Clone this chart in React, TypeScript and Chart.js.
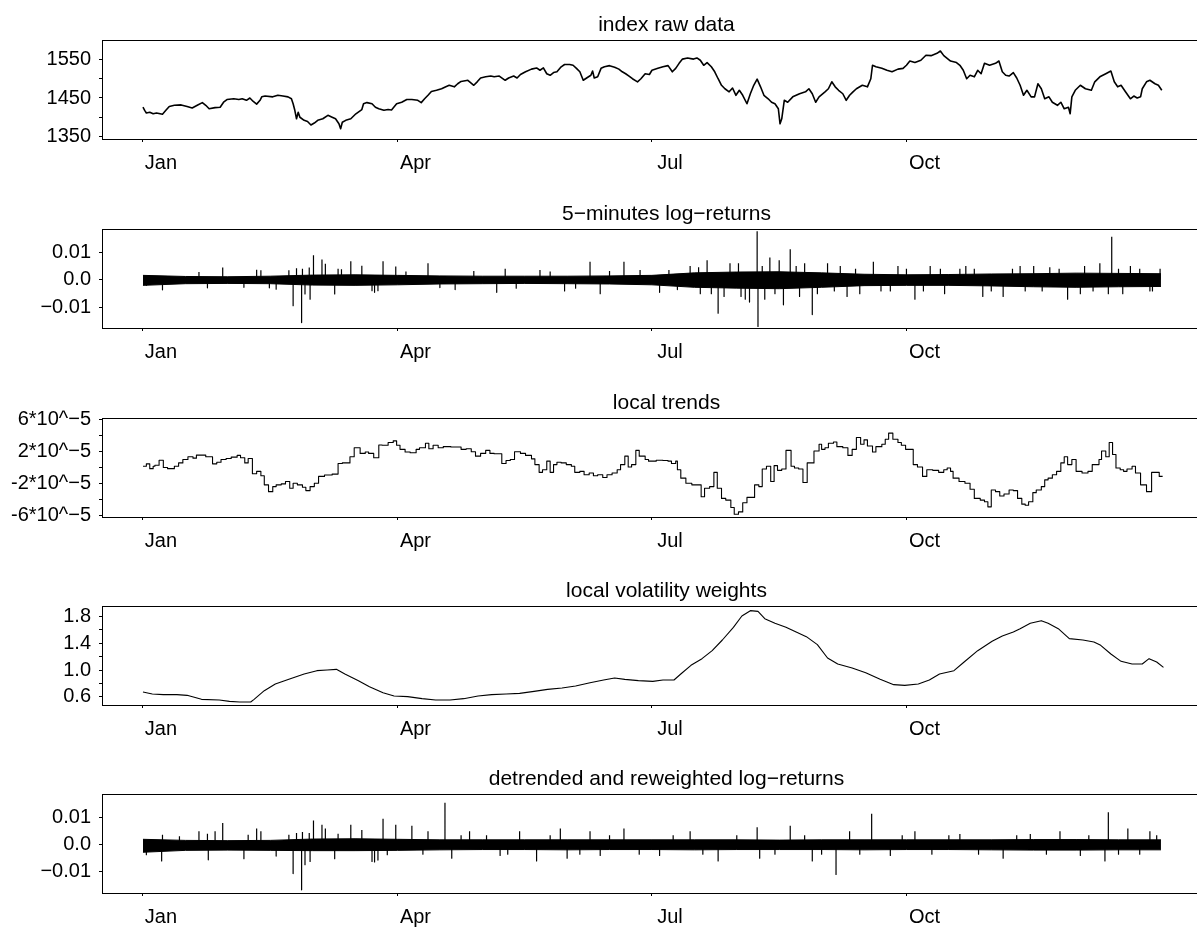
import React, { useEffect, useRef } from 'react';
import { Chart, registerables } from 'chart.js';

Chart.register(...registerables);

const FONT = "'Liberation Sans', Arial, Helvetica, sans-serif";

// ---------- x axis (months since first trading day of January) ----------
const monthTicks = [0, 3, 6, 9];
const monthLabels = ['Jan', 'Apr', 'Jul', 'Oct'];
const X_MIN = -0.483;
const X_MAX = 12.826;

// ---------- panel 1: index raw data [month, level] ----------
const indexSeries: [number, number][] = [
  [0, 1426], [0.02, 1418], [0.04, 1411], [0.08, 1413], [0.12, 1409], [0.16, 1411], [0.23, 1408], [0.27, 1418],
  [0.31, 1428], [0.37, 1431], [0.45, 1432], [0.52, 1428], [0.58, 1424], [0.64, 1431], [0.7, 1438], [0.74, 1431],
  [0.78, 1422], [0.85, 1425], [0.91, 1426], [0.95, 1439], [0.99, 1446], [1.07, 1448], [1.13, 1446], [1.17, 1448],
  [1.22, 1444], [1.26, 1450], [1.3, 1441], [1.34, 1434], [1.38, 1444], [1.4, 1453], [1.44, 1455], [1.53, 1453],
  [1.59, 1457], [1.65, 1455], [1.71, 1453], [1.75, 1448], [1.77, 1435], [1.79, 1418], [1.81, 1396], [1.83, 1413],
  [1.85, 1400], [1.9, 1392], [1.94, 1389], [1.98, 1380], [2.02, 1385], [2.06, 1392], [2.12, 1396], [2.18, 1405],
  [2.23, 1400], [2.27, 1396], [2.31, 1383], [2.33, 1370], [2.35, 1387], [2.39, 1392], [2.45, 1396], [2.51, 1409],
  [2.58, 1420], [2.6, 1435], [2.64, 1438], [2.7, 1435], [2.74, 1426], [2.78, 1422], [2.84, 1418], [2.89, 1420],
  [2.93, 1419], [2.99, 1435], [3.05, 1439], [3.11, 1446], [3.17, 1446], [3.24, 1444], [3.28, 1438], [3.32, 1448],
  [3.36, 1457], [3.4, 1467], [3.46, 1470], [3.52, 1474], [3.57, 1479], [3.61, 1483], [3.67, 1479], [3.71, 1487],
  [3.75, 1493], [3.83, 1496], [3.9, 1483], [3.94, 1492], [3.98, 1502], [4.04, 1505], [4.1, 1507], [4.14, 1505],
  [4.2, 1507], [4.27, 1496], [4.31, 1502], [4.37, 1507], [4.41, 1502], [4.45, 1511], [4.51, 1518], [4.58, 1525],
  [4.64, 1528], [4.68, 1522], [4.72, 1528], [4.76, 1513], [4.8, 1509], [4.84, 1516], [4.88, 1518], [4.93, 1531],
  [4.97, 1537], [5.03, 1537], [5.07, 1535], [5.11, 1527], [5.15, 1518], [5.19, 1496], [5.23, 1502], [5.28, 1509],
  [5.3, 1520], [5.32, 1502], [5.36, 1505], [5.4, 1527], [5.44, 1531], [5.5, 1534], [5.56, 1530], [5.61, 1525],
  [5.65, 1518], [5.69, 1513], [5.73, 1507], [5.77, 1500], [5.83, 1492], [5.87, 1500], [5.92, 1513], [5.97, 1511],
  [6.0, 1522], [6.07, 1527], [6.13, 1531], [6.19, 1534], [6.24, 1518], [6.28, 1527], [6.32, 1540], [6.36, 1551],
  [6.42, 1554], [6.49, 1551], [6.53, 1554], [6.57, 1548], [6.61, 1535], [6.65, 1542], [6.7, 1531], [6.74, 1518],
  [6.78, 1500], [6.82, 1483], [6.86, 1474], [6.91, 1466], [6.95, 1476], [6.99, 1457], [7.03, 1470], [7.07, 1457],
  [7.12, 1435], [7.16, 1461], [7.2, 1483], [7.24, 1499], [7.28, 1479], [7.32, 1457], [7.37, 1448], [7.41, 1439],
  [7.45, 1435], [7.49, 1422], [7.51, 1383], [7.53, 1396], [7.56, 1444], [7.6, 1439], [7.66, 1453], [7.74, 1461],
  [7.81, 1466], [7.85, 1474], [7.89, 1461], [7.93, 1439], [7.97, 1453], [8.04, 1466], [8.08, 1474], [8.12, 1492],
  [8.16, 1479], [8.2, 1470], [8.25, 1461], [8.29, 1444], [8.33, 1457], [8.37, 1466], [8.41, 1474], [8.48, 1483],
  [8.54, 1479], [8.58, 1500], [8.6, 1535], [8.64, 1531], [8.71, 1527], [8.77, 1522], [8.83, 1518], [8.9, 1525],
  [8.96, 1527], [9.0, 1535], [9.04, 1546], [9.1, 1542], [9.17, 1548], [9.23, 1561], [9.29, 1560], [9.36, 1566],
  [9.4, 1572], [9.44, 1560], [9.48, 1553], [9.52, 1546], [9.59, 1542], [9.63, 1535], [9.67, 1522], [9.71, 1500],
  [9.75, 1509], [9.8, 1505], [9.84, 1522], [9.88, 1513], [9.92, 1540], [9.98, 1535], [10.05, 1540], [10.09, 1546],
  [10.13, 1518], [10.17, 1509], [10.21, 1507], [10.26, 1516], [10.3, 1502], [10.34, 1483], [10.38, 1457], [10.42, 1470],
  [10.47, 1453], [10.51, 1453], [10.55, 1487], [10.59, 1474], [10.63, 1448], [10.68, 1453], [10.72, 1439], [10.78, 1431],
  [10.82, 1439], [10.86, 1422], [10.91, 1426], [10.93, 1409], [10.95, 1453], [10.99, 1470], [11.05, 1483], [11.11, 1474],
  [11.18, 1470], [11.22, 1492], [11.28, 1505], [11.35, 1513], [11.41, 1520], [11.45, 1492], [11.49, 1479], [11.53, 1483],
  [11.58, 1467], [11.64, 1448], [11.68, 1455], [11.72, 1450], [11.76, 1453], [11.78, 1474], [11.83, 1492], [11.87, 1496],
  [11.93, 1487], [11.97, 1483], [12.01, 1470],
];
const indexTicks = [1350, 1400, 1450, 1500, 1550];
const indexTickLabels = ['1350', '', '1450', '', '1550'];

// ---------- panel 2: 5-minute log-returns (values in 0.001) ----------
const bandMonths = [0, 0.5, 1, 1.5, 2, 2.5, 3, 3.5, 4, 4.5, 5, 5.5, 6, 6.5, 7, 7.5, 8, 8.5, 9, 9.5, 10, 10.5, 11, 11.5, 12];
const returnsUpper = [1.6, 1.2, 1.1, 1.3, 1.7, 1.8, 1.6, 1.4, 1.3, 1.3, 1.3, 1.4, 1.6, 2.5, 2.8, 2.9, 2.5, 2.0, 1.8, 1.9, 2.1, 2.2, 2.4, 2.3, 2.2];
const returnsLower = [-2.0, -1.4, -1.3, -1.4, -1.9, -2.0, -1.8, -1.5, -1.4, -1.3, -1.4, -1.5, -1.8, -2.7, -3.0, -3.2, -2.7, -2.1, -2.0, -2.0, -2.2, -2.5, -2.7, -2.5, -2.4];
const returnsSpikes: [number, number][] = [
  [0.04, -2.0], [0.23, -3.6], [0.66, 2.8], [0.76, -2.9], [0.94, 4.4], [1.19, -2.7], [1.34, 3.6], [1.39, 3.4],
  [1.49, -2.9], [1.57, -3.4], [1.72, 3.4], [1.77, -9.3], [1.81, 4.2], [1.87, -15.4], [1.88, 4.0], [1.91, -5.1],
  [1.96, 4.4], [1.97, -7.0], [2.01, 8.8], [2.11, 7.3], [2.15, 5.8], [2.26, -5.1], [2.3, 4.0], [2.34, 3.8],
  [2.45, 6.7], [2.58, 5.1], [2.7, -3.9], [2.73, -4.5], [2.77, -3.9], [2.83, 6.7], [2.98, 4.8], [3.1, 3.0],
  [3.36, 6.0], [3.5, -2.8], [3.68, -3.5], [3.9, 3.2], [4.17, -4.5], [4.27, 4.0], [4.4, -3.0], [4.68, 3.5],
  [4.8, 3.0], [4.97, -4.0], [5.1, -3.0], [5.27, 6.5], [5.39, -5.0], [5.5, 3.2], [5.67, 6.5], [5.86, 3.5],
  [6.09, -4.5], [6.2, 3.5], [6.3, -3.5], [6.45, 5.0], [6.55, 4.5], [6.57, -5.0], [6.65, 7.0], [6.7, -5.0],
  [6.78, -12.0], [6.85, -6.0], [6.92, 6.0], [7.02, 6.0], [7.05, -6.0], [7.1, -7.0], [7.15, -8.0], [7.24, 17.5],
  [7.25, -16.8], [7.3, 5.0], [7.33, -7.0], [7.39, 8.0], [7.45, -5.0], [7.5, 7.0], [7.55, -9.0], [7.63, 11.0],
  [7.7, 5.0], [7.74, -6.0], [7.8, 6.0], [7.89, -12.5], [7.95, -5.0], [8.07, 6.0], [8.15, -4.0], [8.22, 5.0],
  [8.3, -6.0], [8.4, 4.0], [8.45, -5.0], [8.61, 6.5], [8.7, -4.0], [8.81, -4.0], [8.9, 5.0], [9.0, 4.0],
  [9.1, -7.0], [9.2, -4.0], [9.28, 5.0], [9.4, 4.0], [9.45, -5.0], [9.63, 4.0], [9.7, 5.0], [9.8, 4.0],
  [9.9, -6.0], [10.0, -4.0], [10.14, -6.0], [10.25, 4.0], [10.34, 5.0], [10.4, -4.0], [10.5, 5.0], [10.6, -4.0],
  [10.69, 4.5], [10.8, 4.0], [10.9, -7.0], [11.05, -5.0], [11.1, 5.0], [11.2, -4.0], [11.28, 6.0], [11.38, -5.0],
  [11.42, 15.5], [11.5, 4.0], [11.55, -5.0], [11.64, 5.0], [11.75, 4.0], [11.87, -4.0], [11.9, -4.0], [11.99, 4.0],
];
const returnTicks = [-10, 0, 10];
const returnTickLabels = ['\u22120.01', '0.0', '0.01'];

// ---------- panel 3: local trends, step levels in 1e-5 [start month, level] ----------
const trendSteps: [number, number][] = [
  [0, 0.15], [0.04, 0.45], [0.08, -0.15], [0.12, 0.15], [0.14, 0.28], [0.19, 0.91], [0.24, 0.0], [0.29, -0.15],
  [0.37, 0.15], [0.42, 0.57], [0.47, 1.0], [0.53, 1.34], [0.59, 1.17], [0.63, 1.55], [0.74, 1.34], [0.82, 0.45],
  [0.87, 0.66], [0.92, 1.0], [0.98, 1.12], [1.04, 1.29], [1.11, 1.51], [1.15, 1.21], [1.2, 0.57], [1.24, 1.12],
  [1.29, -0.78], [1.34, -0.49], [1.39, -1.04], [1.43, -2.18], [1.48, -3.03], [1.53, -2.4], [1.57, -2.18], [1.63, -2.06],
  [1.68, -1.76], [1.73, -2.61], [1.77, -1.97], [1.82, -2.18], [1.88, -2.48], [1.92, -2.9], [1.97, -2.4], [2.02, -1.97],
  [2.07, -1.12], [2.14, -0.95], [2.23, -0.83], [2.3, 0.49], [2.35, 0.57], [2.44, 1.34], [2.49, 2.48], [2.56, 1.76],
  [2.62, 1.93], [2.66, 1.76], [2.72, 1.21], [2.78, 2.82], [2.82, 2.78], [2.89, 3.12], [2.95, 3.33], [2.99, 2.78],
  [3.03, 2.27], [3.09, 1.93], [3.15, 1.84], [3.22, 2.27], [3.26, 2.48], [3.33, 3.03], [3.37, 2.35], [3.42, 2.78],
  [3.48, 2.48], [3.54, 2.61], [3.63, 2.57], [3.75, 2.27], [3.81, 2.35], [3.87, 1.97], [3.92, 1.42], [3.98, 1.76],
  [4.04, 2.14], [4.09, 1.76], [4.14, 1.72], [4.23, 0.49], [4.28, 0.87], [4.33, 1.0], [4.38, 1.97], [4.45, 1.76],
  [4.51, 1.51], [4.58, 1.08], [4.62, 0.36], [4.67, -0.61], [4.71, -0.28], [4.76, 0.79], [4.8, -0.61], [4.84, 0.36],
  [4.88, 0.66], [4.93, 0.57], [4.99, 0.36], [5.05, 0.15], [5.09, -0.61], [5.15, -0.49], [5.2, -0.91], [5.26, -0.7],
  [5.31, -1.04], [5.36, -0.91], [5.42, -1.25], [5.47, -0.91], [5.53, -0.7], [5.59, -0.28], [5.63, 0.36], [5.68, 1.42],
  [5.72, 0.06], [5.76, 0.36], [5.81, 2.14], [5.85, 1.42], [5.92, 1.0], [5.96, 0.79], [6.05, 0.91], [6.13, 0.87],
  [6.19, 0.79], [6.23, 0.49], [6.28, 0.79], [6.3, -0.28], [6.34, -1.34], [6.4, -1.97], [6.47, -2.18], [6.58, -3.67],
  [6.62, -2.61], [6.68, -2.4], [6.73, -0.61], [6.77, -2.61], [6.82, -3.88], [6.87, -4.09], [6.93, -5.02], [6.97, -5.87],
  [7.02, -5.57], [7.07, -4.43], [7.12, -3.75], [7.21, -2.18], [7.26, -2.4], [7.3, -0.19], [7.35, 0.15], [7.4, -1.76],
  [7.44, 0.23], [7.48, -0.36], [7.53, -0.19], [7.58, 2.14], [7.64, 0.15], [7.68, -0.07], [7.73, -0.19], [7.78, -1.89],
  [7.83, 0.57], [7.91, 2.06], [7.97, 2.91], [8.0, 2.27], [8.04, 2.48], [8.08, 3.03], [8.14, 3.2], [8.18, 2.61],
  [8.25, 2.48], [8.31, 1.51], [8.36, 2.27], [8.41, 3.75], [8.46, 2.91], [8.5, 3.46], [8.54, 2.69], [8.6, 1.93],
  [8.64, 2.61], [8.71, 2.91], [8.75, 3.54], [8.79, 4.3], [8.84, 3.54], [8.9, 3.12], [8.94, 2.78], [8.99, 2.27],
  [9.08, 0.36], [9.13, 0.06], [9.19, -1.12], [9.24, -0.28], [9.31, -0.36], [9.38, -0.61], [9.44, -0.28], [9.48, -0.07],
  [9.52, -0.49], [9.55, -1.34], [9.62, -1.76], [9.69, -1.97], [9.75, -2.74], [9.8, -3.88], [9.87, -4.09], [9.92, -4.3],
  [9.96, -4.94], [10.0, -2.82], [10.05, -3.03], [10.1, -3.58], [10.15, -3.33], [10.21, -2.82], [10.26, -2.9], [10.31, -3.88],
  [10.36, -4.6], [10.4, -4.73], [10.44, -4.3], [10.49, -3.16], [10.53, -2.82], [10.59, -2.4], [10.63, -1.55], [10.67, -1.34],
  [10.72, -0.91], [10.77, -0.49], [10.82, 0.57], [10.86, 1.34], [10.9, 0.36], [10.95, 1.0], [11.0, -0.49], [11.07, -0.7],
  [11.14, -0.49], [11.19, 0.36], [11.27, 1.0], [11.3, 2.06], [11.35, 1.34], [11.39, 3.12], [11.43, 1.63], [11.47, -0.07],
  [11.52, -0.28], [11.56, -0.49], [11.6, -0.19], [11.66, 0.15], [11.7, -0.7], [11.76, -2.18], [11.83, -3.03], [11.89, -0.61],
  [11.98, -1.12], [12.02, -1.12],
];
const trendTicks = [-6, -4, -2, 0, 2, 4, 6];
const trendTickLabels = ['-6*10^\u22125', '', '-2*10^\u22125', '', '2*10^\u22125', '', '6*10^\u22125'];

// ---------- panel 4: local volatility weights [month, weight] ----------
const volSeries: [number, number][] = [
  [0, 0.67], [0.11, 0.64], [0.24, 0.63], [0.4, 0.63], [0.52, 0.62], [0.69, 0.56], [0.9, 0.55], [1.02, 0.53],
  [1.14, 0.52], [1.27, 0.52], [1.31, 0.56], [1.43, 0.69], [1.56, 0.79], [1.72, 0.86], [1.9, 0.94], [2.05, 0.99],
  [2.17, 1.0], [2.28, 1.01], [2.38, 0.94], [2.54, 0.84], [2.67, 0.75], [2.83, 0.66], [2.96, 0.61], [3.12, 0.6],
  [3.29, 0.57], [3.45, 0.55], [3.62, 0.55], [3.78, 0.57], [3.95, 0.61], [4.11, 0.63], [4.28, 0.64], [4.44, 0.65],
  [4.61, 0.68], [4.77, 0.71], [4.94, 0.73], [5.1, 0.76], [5.27, 0.81], [5.43, 0.85], [5.56, 0.88], [5.68, 0.86],
  [5.84, 0.84], [6.01, 0.83], [6.13, 0.85], [6.26, 0.85], [6.34, 0.94], [6.46, 1.07], [6.59, 1.17], [6.71, 1.29],
  [6.83, 1.45], [6.96, 1.64], [7.06, 1.81], [7.16, 1.89], [7.25, 1.88], [7.33, 1.77], [7.45, 1.7], [7.58, 1.64],
  [7.7, 1.57], [7.82, 1.5], [7.95, 1.38], [8.07, 1.18], [8.19, 1.09], [8.36, 1.03], [8.52, 0.96], [8.69, 0.86],
  [8.85, 0.78], [8.98, 0.77], [9.14, 0.79], [9.27, 0.85], [9.39, 0.94], [9.56, 0.99], [9.68, 1.12], [9.84, 1.29],
  [10.01, 1.43], [10.13, 1.51], [10.26, 1.57], [10.34, 1.62], [10.46, 1.7], [10.59, 1.74], [10.67, 1.7], [10.79, 1.62],
  [10.92, 1.47], [11.08, 1.45], [11.21, 1.42], [11.29, 1.37], [11.41, 1.24], [11.53, 1.13], [11.66, 1.09], [11.78, 1.09],
  [11.86, 1.17], [11.95, 1.12], [12.03, 1.04],
];
const volTicks = [0.6, 0.8, 1.0, 1.2, 1.4, 1.6, 1.8];
const volTickLabels = ['0.6', '', '1.0', '', '1.4', '', '1.8'];

// ---------- panel 5: detrended and reweighted log-returns (values in 0.001) ----------
const detrendedUpper = [2.0, 1.6, 1.5, 1.6, 2.1, 2.2, 2.0, 1.8, 1.8, 1.8, 1.8, 1.8, 1.8, 1.8, 1.8, 1.7, 1.8, 1.8, 1.8, 1.8, 1.8, 1.9, 1.9, 1.8, 1.8];
const detrendedLower = [-2.8, -2.1, -2.0, -2.1, -2.2, -2.2, -2.1, -1.9, -1.8, -1.8, -1.9, -1.8, -1.8, -1.9, -1.8, -1.8, -1.8, -1.9, -1.8, -1.8, -1.9, -2.0, -2.0, -1.9, -1.9];
const detrendedSpikes: [number, number][] = [
  [0.04, -3.7], [0.22, -6.0], [0.23, 3.7], [0.43, 3.1], [0.66, 5.0], [0.76, 4.1], [0.77, -5.6], [0.85, 5.0],
  [0.94, 8.0], [1.19, -5.2], [1.24, 3.7], [1.34, 6.0], [1.39, 5.0], [1.57, -4.2], [1.72, 3.7], [1.77, -10.7],
  [1.81, 4.3], [1.87, -16.7], [1.88, 4.7], [1.91, -7.4], [1.96, 4.3], [1.97, -6.2], [2.01, 9.0], [2.11, 7.4],
  [2.15, 6.0], [2.26, -5.2], [2.3, 4.1], [2.45, 7.4], [2.58, 5.4], [2.7, -6.2], [2.73, -6.4], [2.77, -5.7],
  [2.83, 9.6], [2.88, -3.7], [2.98, 7.4], [3.17, 7.0], [3.3, -3.5], [3.36, 5.0], [3.56, 15.5], [3.64, -5.0],
  [3.75, 3.5], [3.85, 5.0], [4.05, 3.5], [4.21, -4.0], [4.3, -3.5], [4.44, 5.0], [4.64, -6.0], [4.8, 3.5],
  [4.92, 6.0], [5.0, -5.0], [5.15, -3.5], [5.27, 5.0], [5.39, -4.0], [5.5, 3.5], [5.67, 6.0], [5.85, -3.5],
  [6.09, -4.0], [6.25, 3.5], [6.45, 5.0], [6.6, -3.5], [6.78, -6.0], [7.0, 3.5], [7.24, 6.5], [7.27, -5.0],
  [7.45, -3.5], [7.63, 7.0], [7.8, 3.5], [7.89, -6.0], [8.0, -3.5], [8.17, -11.0], [8.33, 5.0], [8.45, -3.5],
  [8.59, 11.5], [8.81, -4.0], [8.95, 3.5], [9.1, 5.0], [9.3, -3.5], [9.5, 3.5], [9.63, 4.0], [9.85, -3.5],
  [10.14, -5.0], [10.3, 3.5], [10.46, 4.0], [10.65, -3.5], [10.81, 5.0], [11.05, -4.0], [11.15, 3.5], [11.34, -6.0],
  [11.38, 12.0], [11.5, -3.5], [11.61, 6.0], [11.75, -3.5], [11.87, 5.0], [11.95, 3.5],
];

// ---------- helpers ----------
const toPoints = (s: [number, number][]) => s.map(([x, y]) => ({ x, y }));
const spikePoints = (s: [number, number][]) =>
  s.flatMap(([x, y]) => [{ x, y: 0 }, { x, y }, { x, y: null as any }]);
const bandPoints = (vals: number[]) => bandMonths.map((x, i) => ({ x, y: vals[i] }));

const lineBase = { pointRadius: 0, borderColor: '#000', tension: 0, borderJoinStyle: 'round' as const };

type PanelSpec = {
  title: string;
  yMin: number;
  yMax: number;
  yTicks: number[];
  yLabels: string[];
  datasets: any[];
};

const noiseDatasets = (upper: number[], lower: number[], spikes: [number, number][]) => [
  { ...lineBase, data: bandPoints(upper), borderWidth: 1, backgroundColor: '#000', fill: '+1' },
  { ...lineBase, data: bandPoints(lower), borderWidth: 1, fill: false },
  { ...lineBase, data: spikePoints(spikes), borderWidth: 1.2, spanGaps: false, fill: false },
];

const panels: PanelSpec[] = [
  {
    title: 'index raw data',
    yMin: 1343.5, yMax: 1600.6,
    yTicks: indexTicks, yLabels: indexTickLabels,
    datasets: [{ ...lineBase, data: toPoints(indexSeries), borderWidth: 1.6, fill: false }],
  },
  {
    title: '5\u2212minutes log\u2212returns',
    yMin: -17.35, yMax: 18.29,
    yTicks: returnTicks, yLabels: returnTickLabels,
    datasets: noiseDatasets(returnsUpper, returnsLower, returnsSpikes),
  },
  {
    title: 'local trends',
    yMin: -6.21, yMax: 6.2,
    yTicks: trendTicks, yLabels: trendTickLabels,
    datasets: [{ ...lineBase, data: toPoints(trendSteps), borderWidth: 1.1, stepped: 'before', fill: false }],
  },
  {
    title: 'local volatility weights',
    yMin: 0.475, yMax: 1.96,
    yTicks: volTicks, yLabels: volTickLabels,
    datasets: [{ ...lineBase, data: toPoints(volSeries), borderWidth: 1.1, fill: false }],
  },
  {
    title: 'detrended and reweighted log\u2212returns',
    yMin: -17.89, yMax: 18.78,
    yTicks: returnTicks, yLabels: returnTickLabels,
    datasets: noiseDatasets(detrendedUpper, detrendedLower, detrendedSpikes),
  },
];

const PANEL_TOPS = [0, 189, 378, 566, 754];
const CANVAS_W = 1240;
const CANVAS_H = 188;

const framePlugin = {
  id: 'frame',
  afterDatasetsDraw(chart: any, _args: any, opts: any) {
    const { ctx, chartArea } = chart;
    const { left, top, right, bottom } = chartArea;
    const xs = chart.scales.x;
    const ys = chart.scales.y;
    ctx.save();
    ctx.strokeStyle = '#000';
    ctx.lineWidth = 1;
    const l = Math.round(left) + 0.5;
    const t = Math.round(top) + 0.5;
    const b = Math.round(bottom) + 0.5;
    ctx.strokeRect(l, t, Math.round(right - left), Math.round(bottom - top));
    const yt: number[] = opts.yTicks || [];
    ctx.beginPath();
    ctx.moveTo(xs.getPixelForValue(monthTicks[0]), b);
    ctx.lineTo(xs.getPixelForValue(monthTicks[monthTicks.length - 1]), b);
    if (yt.length) {
      ctx.moveTo(l, ys.getPixelForValue(yt[0]));
      ctx.lineTo(l, ys.getPixelForValue(yt[yt.length - 1]));
    }
    ctx.stroke();
    ctx.fillStyle = '#000';
    ctx.font = `21px ${FONT}`;
    ctx.textAlign = 'center';
    ctx.textBaseline = 'alphabetic';
    ctx.fillText(opts.text || '', (left + right) / 2, top - 9);
    ctx.restore();
  },
};

function Panel({ spec, top }: { spec: PanelSpec; top: number }) {
  const ref = useRef<HTMLCanvasElement | null>(null);
  useEffect(() => {
    if (!ref.current) return;
    const chart = new Chart(ref.current, {
      type: 'line',
      data: { datasets: spec.datasets },
      plugins: [framePlugin as any],
      options: {
        animation: false,
        responsive: false,
        devicePixelRatio: 1,
        events: [],
        layout: { padding: { top: 40, right: CANVAS_W - 1231, left: 0, bottom: 0 } },
        plugins: {
          legend: { display: false },
          tooltip: { enabled: false },
          title: { display: false },
          frame: { text: spec.title, yTicks: spec.yTicks },
        } as any,
        scales: {
          x: {
            type: 'linear',
            min: X_MIN,
            max: X_MAX,
            offset: false,
            afterBuildTicks: (s: any) => {
              s.ticks = monthTicks.map((v) => ({ value: v }));
            },
            afterFit: (s: any) => {
              s.height = CANVAS_H - 40 - 99;
            },
            ticks: {
              autoSkip: false,
              maxRotation: 0,
              minRotation: 0,
              labelOffset: 18,
              padding: 9,
              color: '#000',
              font: { family: FONT, size: 20 },
              callback: (v: any) => {
                const i = monthTicks.indexOf(Number(v));
                return i >= 0 ? monthLabels[i] : '';
              },
            },
            grid: { display: true, drawOnChartArea: false, drawTicks: true, tickLength: 3, color: '#000', lineWidth: 1 },
            border: { display: false },
          },
          y: {
            type: 'linear',
            min: spec.yMin,
            max: spec.yMax,
            afterBuildTicks: (s: any) => {
              s.ticks = spec.yTicks.map((v) => ({ value: v }));
            },
            afterFit: (s: any) => {
              s.width = 102;
            },
            ticks: {
              autoSkip: false,
              padding: 8,
              color: '#000',
              font: { family: FONT, size: 20 },
              callback: (v: any) => {
                const i = spec.yTicks.findIndex((t) => Math.abs(t - Number(v)) < 1e-9);
                return i >= 0 ? spec.yLabels[i] : '';
              },
            },
            grid: { display: true, drawOnChartArea: false, drawTicks: true, tickLength: 3, color: '#000', lineWidth: 1 },
            border: { display: false },
          },
        },
      } as any,
    });
    return () => chart.destroy();
  }, [spec]);
  return (
    <canvas
      ref={ref}
      width={CANVAS_W}
      height={CANVAS_H}
      style={{ position: 'absolute', left: 0, top, width: CANVAS_W, height: CANVAS_H }}
    />
  );
}

export default function App() {
  return (
    <div
      style={{
        position: 'fixed',
        left: 0,
        top: 0,
        width: 1197,
        height: 927,
        overflow: 'hidden',
        background: '#fff',
      }}
    >
      {panels.map((p, i) => (
        <Panel key={i} spec={p} top={PANEL_TOPS[i]} />
      ))}
    </div>
  );
}
